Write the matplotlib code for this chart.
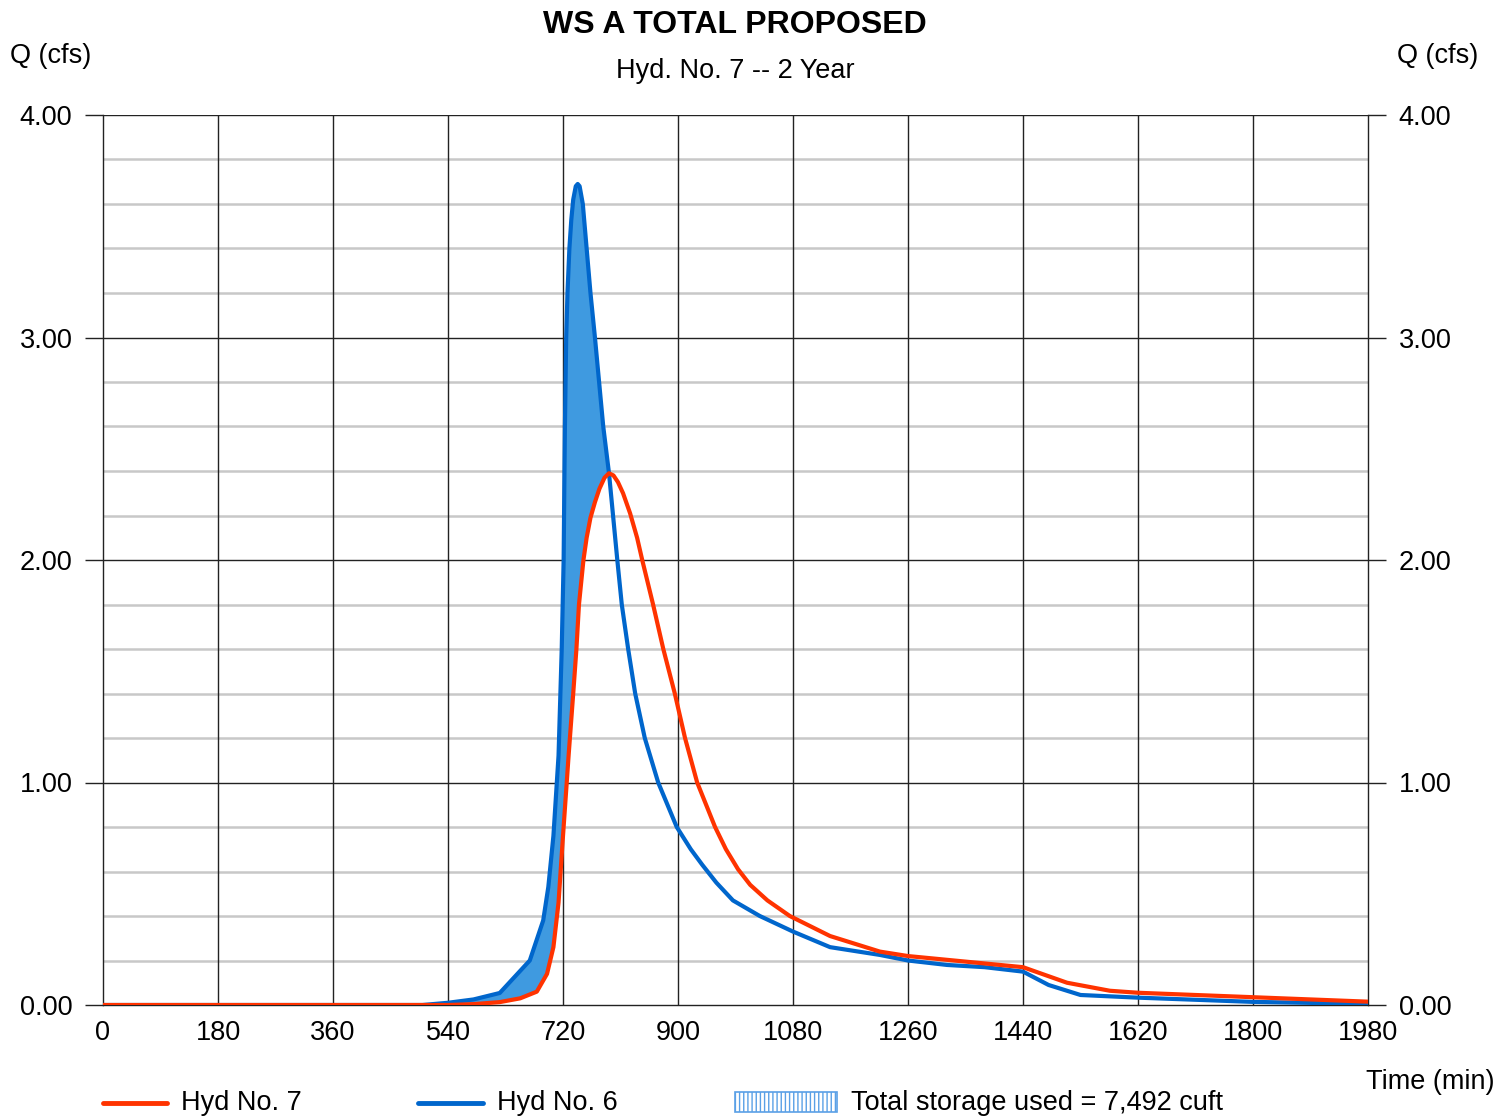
import numpy as np
import matplotlib
matplotlib.use("Agg")
import matplotlib.pyplot as plt
from matplotlib.lines import Line2D
from matplotlib.patches import Rectangle

plt.rcParams['font.family'] = ['Liberation Sans', 'DejaVu Sans']

# Hyd No. 6 (inflow)
t6 = [0, 360, 500, 540, 580, 621, 668, 689, 697, 705, 713, 718, 721, 722, 723, 725,
      727, 730, 733, 736, 740, 743, 746, 751, 757, 763, 770, 783, 792, 805, 812,
      822, 833, 848, 869, 898, 920, 938, 960, 986, 1028, 1080, 1138, 1216, 1260,
      1321, 1380, 1440, 1480, 1530, 1620, 1800, 1980]
q6 = [0, 0, 0.0, 0.01, 0.025, 0.054, 0.20, 0.38, 0.53, 0.76, 1.12, 1.6, 2.0, 2.31, 2.6, 3.0,
      3.2, 3.4, 3.53, 3.62, 3.68, 3.69, 3.68, 3.6, 3.4, 3.2, 3.0, 2.6, 2.39, 2.0, 1.8,
      1.6, 1.4, 1.2, 1.0, 0.8, 0.70, 0.63, 0.55, 0.47, 0.40, 0.33, 0.26, 0.225, 0.20,
      0.18, 0.17, 0.15, 0.09, 0.045, 0.033, 0.014, 0.005]

# Hyd No. 7 (outflow)
t7 = [0, 360, 540, 580, 621, 653, 679, 695, 705, 713, 720, 729, 736, 741, 745, 752,
      757, 763, 770, 777, 785, 792, 799, 806, 814, 825, 836, 844, 861, 877, 895,
      911, 930, 958, 975, 994, 1013, 1040, 1075, 1138, 1216, 1260, 1350, 1440, 1509,
      1576, 1620, 1800, 1980]
q7 = [0, 0, 0.0, 0.004, 0.013, 0.03, 0.06, 0.14, 0.26, 0.46, 0.76, 1.13, 1.4, 1.6, 1.8, 2.0,
      2.1, 2.19, 2.26, 2.32, 2.37, 2.39, 2.38, 2.35, 2.30, 2.21, 2.1, 2.0, 1.8, 1.6, 1.4,
      1.2, 1.0, 0.8, 0.7, 0.61, 0.54, 0.47, 0.40, 0.31, 0.24, 0.22, 0.195, 0.17, 0.10,
      0.064, 0.055, 0.035, 0.015]

RED = '#ff3300'
BLUE = '#0066cc'
FILL = '#3f9ae0'
FS = 19.5

fig = plt.figure(figsize=(15.12, 11.18), dpi=100)
ax = fig.add_axes([103/1512, 1 - 1005/1118, (1368-103)/1512, (1005-115)/1118])

# grid
for y in np.arange(0.2, 4.0, 0.2):
    if abs(y - round(y)) > 0.01:
        ax.axhline(y, color='#c8c8c8', lw=1.8, zorder=1)
for x in range(180, 1980, 180):
    ax.axvline(x, color='#222222', lw=1.0, zorder=1)
for y in [1, 2, 3, 4]:
    ax.axhline(y, color='#222222', lw=1.0, zorder=1)

# fill where inflow exceeds outflow
tt = np.linspace(0, 1980, 6000)
a = np.interp(tt, t6, q6)
b = np.interp(tt, t7, q7)
ax.fill_between(tt, a, b, where=a > b, color=FILL, lw=0, zorder=2, interpolate=True)

ax.plot(t6, q6, color=BLUE, lw=3.0, zorder=3, solid_joinstyle='round')
ax.plot(t7, q7, color=RED, lw=3.0, zorder=4, solid_joinstyle='round')

ax.set_xlim(0, 1980)
ax.set_ylim(0, 4)
ax.set_xticks(range(0, 1981, 180))
ax.set_yticks([0, 1, 2, 3, 4])
ax.set_yticklabels(['0.00', '1.00', '2.00', '3.00', '4.00'])
ax.tick_params(axis='y', left=True, right=True, labelleft=True, labelright=True,
               length=13, width=1.0, direction='out', labelsize=FS, pad=9,
               color='#222222')
ax.tick_params(axis='x', length=0, labelsize=FS, pad=11)
for s in ax.spines.values():
    s.set_color('#222222')
    s.set_linewidth(1.0)
ax.spines['top'].set_visible(False)

fig.text(735/1512, 1 - 25/1118, 'WS A TOTAL PROPOSED', ha='center', va='center',
         fontsize=23, fontweight='bold')
fig.text(735/1512, 1 - 71/1118, 'Hyd. No. 7 -- 2 Year', ha='center', va='center',
         fontsize=FS)
fig.text(10/1512, 1 - 56/1118, 'Q (cfs)', ha='left', va='center', fontsize=FS)
fig.text(1478/1512, 1 - 56/1118, 'Q (cfs)', ha='right', va='center', fontsize=FS)
fig.text(1495/1512, 1 - 1082/1118, 'Time (min)', ha='right', va='center', fontsize=FS)

# legend row
ly = 1 - 1103/1118
fig.add_artist(Line2D([103/1512, 167/1512], [ly, ly], color=RED, lw=3.5,
                      solid_capstyle='round'))
fig.text(181/1512, ly, 'Hyd No. 7', va='center', fontsize=FS)
fig.add_artist(Line2D([418/1512, 483/1512], [ly, ly], color=BLUE, lw=3.5,
                      solid_capstyle='round'))
fig.text(497/1512, ly, 'Hyd No. 6', va='center', fontsize=FS)
fig.add_artist(Rectangle((735/1512, 1 - 1112/1118), 102/1512, 20/1118,
                         facecolor='white', edgecolor='#5aa0e6', hatch='||||',
                         lw=1.2, transform=fig.transFigure))
fig.text(851/1512, ly, 'Total storage used = 7,492 cuft', va='center', fontsize=FS)

fig.savefig('out.png', dpi=100)
